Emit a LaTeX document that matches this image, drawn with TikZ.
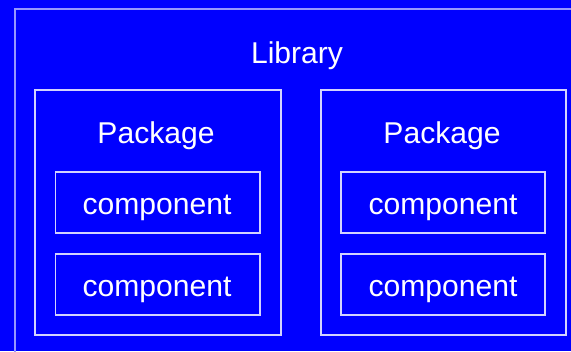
\documentclass[tikz,border=0pt]{standalone}
\usepackage{fontspec}
\setmainfont{Liberation Sans}
\definecolor{bg}{RGB}{0,0,255}
\definecolor{edgeA}{RGB}{150,150,255}
\definecolor{edgeB}{RGB}{210,210,255}
\begin{document}
\begin{tikzpicture}[x=1bp,y=-1bp,
  box/.style={draw=edgeB,line width=1.3bp},
  outerbox/.style={draw=edgeA,line width=1.6bp},
  lbl/.style={text=white,font=\fontsize{30.2}{34}\selectfont,anchor=base,inner sep=0pt}]
  % canvas
  \fill[bg] (0,0) rectangle (571,351);
  \useasboundingbox (0,0) rectangle (571,351);
  % library frame (runs past the right and bottom edges)
  \draw[outerbox] (15,9) rectangle (585,365);
  \node[lbl] (lib) at (297,63) {Library};
  % left package
  \draw[box] (35,90) rectangle (281,335);
  \node[lbl] (pkgL) at (156,143) {Package};
  \draw[box] (55.5,172) rectangle (260,233);
  \node[lbl] (cL1) at (157,214) {component};
  \draw[box] (55.5,254) rectangle (260,315);
  \node[lbl] (cL2) at (157,296) {component};
  % right package
  \draw[box] (321,90) rectangle (566,335);
  \node[lbl] (pkgR) at (442,143) {Package};
  \draw[box] (341,172) rectangle (545,233);
  \node[lbl] (cR1) at (443,214) {component};
  \draw[box] (341,254) rectangle (545,315);
  \node[lbl] (cR2) at (443,296) {component};
\end{tikzpicture}
\end{document}
